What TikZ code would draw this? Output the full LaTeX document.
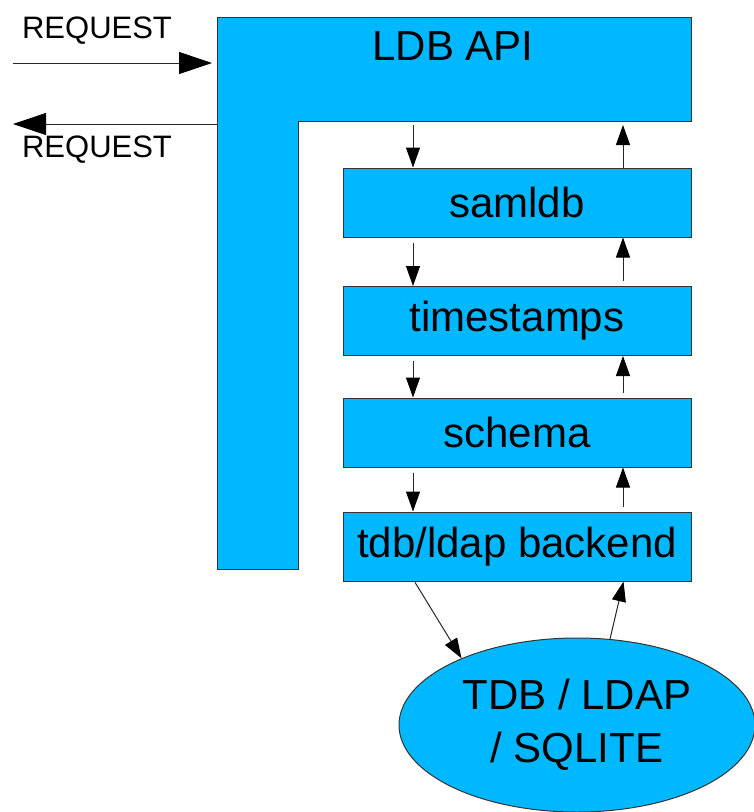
\documentclass[tikz,border=0pt]{standalone}
\usepackage{fontspec}
\setmainfont{Liberation Sans}
\usetikzlibrary{arrows.meta,shapes.geometric}

\definecolor{ldbblue}{RGB}{0,184,255}

\tikzset{
  layerbox/.style={draw=black!80, fill=ldbblue, line width=1pt,
    minimum width=348pt, minimum height=69pt, inner sep=0pt,
    font=\fontsize{42}{50}\selectfont},
  flow/.style={line width=1pt, draw=black!85, -{Triangle[length=20pt,width=14pt,color=black]}},
  reqflow/.style={line width=1pt, draw=black!85, -{Triangle[length=33pt,width=22pt,color=black]}},
  reqlabel/.style={font=\fontsize{31}{36}\selectfont, inner sep=0pt},
}

\begin{document}
\begin{tikzpicture}[x=1pt,y=-1pt]
  \useasboundingbox (0,0) rectangle (754,812);

  % Drawing the LDB API block (L shape)
  \draw [fill=ldbblue, draw=black!80, line width=1pt]
    (217,17) -- (691,17) -- (691,121) -- (298,121) -- (298,569) -- (217,569) -- cycle;
  \node [font=\fontsize{42}{50}\selectfont, inner sep=0pt] (api) at (453,46) {LDB API};
  \coordinate (apibase) at (517,121);
  \coordinate (apiwest) at (217,0);

  % Columns of the down and up arrows
  \coordinate (dnx) at (413,0);
  \coordinate (upx) at (623,0);

  % Marking the module layers
  \node [layerbox] (samldb)     at (517,202.5) {samldb};
  \node [layerbox] (timestamps) at (517,321)   {timestamps};
  \node [layerbox] (schema)     at (517,432.5) {schema};
  \node [layerbox] (backend)    at (517,546.5) {tdb/ldap backend};

  % Drawing the store
  \node [ellipse, draw=black!80, fill=ldbblue, line width=1pt, inner sep=0pt,
    minimum width=356pt, minimum height=174pt, align=center,
    font=\fontsize{42}{53}\selectfont] (db) at (577,725) {TDB / LDAP\\/ SQLITE};

  % Drawing the requests
  \coordinate (reqin)  at (13,63);
  \coordinate (reqout) at (13,124);
  \draw [reqflow, shorten >=5pt] (reqin) -- (reqin -| apiwest);
  \draw [reqflow] (reqout -| apiwest) -- (reqout);
  \node [reqlabel] (reqtop) at (97,31)  {REQUEST};
  \node [reqlabel] (reqbot) at (97,150) {REQUEST};

  % Drawing the arrows down the stack
  \draw [flow, shorten <=4pt] (apibase -| dnx)     -- (samldb.north -| dnx);
  \draw [flow, shorten <=5pt] (samldb.south -| dnx) -- (timestamps.north -| dnx);
  \draw [flow, shorten <=5pt] (timestamps.south -| dnx) -- (schema.north -| dnx);
  \draw [flow, shorten <=5pt] (schema.south -| dnx) -- (backend.north -| dnx);

  % Drawing the arrows up the stack
  \draw [flow, shorten >=4pt] (samldb.north -| upx)     -- (apibase -| upx);
  \draw [flow, shorten <=5pt] (timestamps.north -| upx) -- (samldb.south -| upx);
  \draw [flow, shorten <=5pt] (schema.north -| upx)     -- (timestamps.south -| upx);
  \draw [flow, shorten <=5pt] (backend.north -| upx)    -- (schema.south -| upx);

  % Drawing the arrows to and from the store
  \draw [flow, shorten <=1pt] ([xshift=72pt]backend.south west) -- (db.150.6);
  \draw [flow] (db.69) -- ([xshift=-68pt]backend.south east);
\end{tikzpicture}
\end{document}
